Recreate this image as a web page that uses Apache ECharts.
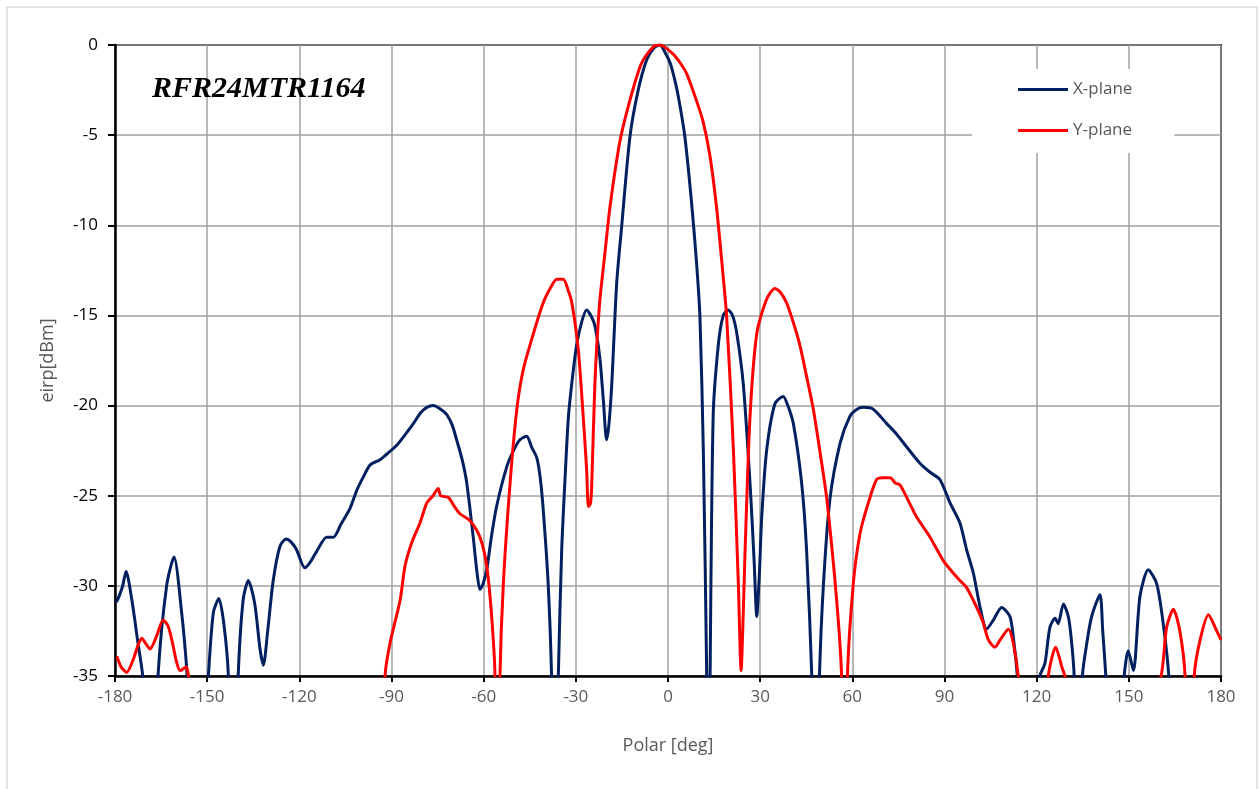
<!DOCTYPE html>
<html>
<head>
<meta charset="utf-8">
<script src="https://cdn.jsdelivr.net/npm/echarts@6/dist/echarts.min.js"></script>
<style>
  html, body { margin: 0; padding: 0; background: #fff; }
  #chart { width: 1260px; height: 789px; }
</style>
</head>
<body>
<div id="chart"></div>
<script>
// polar angle [deg], eirp [dBm]; -45 marks the nulls that run off the bottom
const xPlane = [
  [-179.5, -30.9], [-178.5, -30.5], [-177.5, -30.0], [-176.4, -29.2], [-174.5, -30.8],
  [-172.5, -33.2], [-171, -35], [-168.5, -45], [-166, -35], [-163.2, -30.0],
  [-160.8, -28.4], [-158.3, -31.5], [-156.5, -35], [-153, -45], [-149.6, -35],
  [-148, -31.5], [-146.2, -30.7], [-144.5, -32.2], [-143.1, -35], [-141.5, -45],
  [-139.9, -35], [-138.3, -30.8], [-136.6, -29.7], [-134.5, -31.0], [-132.8, -33.5],
  [-131.7, -34.4], [-130.3, -32.5], [-128.5, -29.7], [-126.3, -27.8], [-124.3, -27.4],
  [-122.5, -27.6], [-120.9, -28.0], [-118.2, -29.0], [-116.5, -28.7], [-114.4, -28.1],
  [-111.1, -27.3], [-108.9, -27.3], [-106.5, -26.6], [-103.5, -25.7], [-101.3, -24.7],
  [-99, -23.9], [-97, -23.3], [-93.7, -23.0], [-91.6, -22.7], [-88.3, -22.2],
  [-85.5, -21.6], [-82.9, -21.0], [-80.5, -20.4], [-78.5, -20.1], [-76.4, -20.0],
  [-74, -20.2], [-72, -20.5], [-70.2, -21.1], [-68.8, -21.9], [-67, -23.0],
  [-65.5, -24.3], [-63.4, -27.3], [-62.2, -29.2], [-61.2, -30.2], [-60.2, -29.9],
  [-59, -29.1], [-57.5, -27.3], [-55.8, -25.6], [-52.5, -23.4], [-50.3, -22.5],
  [-48.2, -21.9], [-46, -21.7], [-44.4, -22.3], [-42.7, -22.9], [-41.6, -24.0],
  [-40.6, -25.8], [-39, -29.9], [-37.9, -35], [-36.8, -45], [-35.7, -35],
  [-34.6, -28.0], [-33.5, -24.0], [-32.4, -20.6], [-31, -18.3], [-29.7, -16.6],
  [-28, -15.3], [-26.5, -14.7], [-24.3, -15.3], [-23.2, -16.1], [-22.1, -17.5],
  [-21, -19.8], [-20, -21.9], [-19.2, -21.0], [-18.3, -18.8], [-16.7, -13.2],
  [-15.1, -10.1], [-12.4, -5.1], [-9.7, -2.5], [-6.9, -0.8], [-4.5, -0.15],
  [-2.6, 0], [-1, -0.4], [0.7, -1.0], [2, -1.8], [3.4, -2.9],
  [5.5, -5.1], [7.7, -8.8], [9.3, -12.1], [10.4, -15.1], [11.5, -22.5],
  [12.6, -35], [13.2, -45], [13.7, -35], [14.7, -20.6], [16.4, -16.6],
  [18, -15.0], [19.6, -14.7], [21, -15.0], [22.4, -16.0], [24.5, -18.8],
  [26.7, -24.3], [28, -28.5], [28.9, -31.7], [29.7, -29.5], [30.5, -26.2],
  [32.1, -22.5], [34.8, -19.9], [37.5, -19.5], [39, -20.0], [40.8, -21.0],
  [43.5, -24.3], [45.1, -28.0], [46.8, -35], [48, -45], [49.3, -35],
  [50.6, -29.9], [52.7, -25.2], [56, -22.1], [59.2, -20.6], [61.5, -20.2],
  [63.6, -20.1], [66.8, -20.2], [71.2, -21.0], [74.5, -21.6], [77.7, -22.3],
  [82, -23.2], [85.3, -23.7], [88.5, -24.1], [91.8, -25.4], [95, -26.5],
  [97.2, -28.0], [99.4, -29.3], [101.6, -31.2], [103.7, -32.4], [105.9, -31.9],
  [108.6, -31.2], [111.3, -31.7], [112.5, -33.0], [113.7, -35], [117.5, -45],
  [121.1, -35], [122.7, -34.3], [124.3, -32.3], [126, -31.8], [127, -32.1],
  [128.7, -31.0], [130.3, -31.7], [131.3, -33.0], [132.2, -35], [133.5, -45],
  [134.9, -35], [136.3, -33.2], [137.9, -31.7], [140.6, -30.5], [141.5, -32.5],
  [142.5, -35], [145.5, -45], [148.5, -35], [149.8, -33.6], [151.5, -34.7],
  [153.6, -30.6], [156.3, -29.1], [159.1, -29.9], [161.2, -32.1], [163, -35],
  [166, -45]
];

const yPlane = [
  [-179.4, -33.9], [-178, -34.5], [-176.2, -34.8], [-174.1, -34.1], [-172.5, -33.3],
  [-171.3, -32.9], [-170, -33.2], [-168.6, -33.5], [-166.5, -32.8], [-164.3, -31.9],
  [-162.8, -32.2], [-161.5, -33.0], [-160, -34.2], [-158.8, -34.7], [-156.9, -34.5],
  [-156.1, -35], [-155, -45], [-93, -45], [-92.1, -35], [-90.5, -33.2],
  [-87.2, -30.8], [-85.6, -28.9], [-83.4, -27.6], [-80.7, -26.5], [-78.5, -25.4],
  [-76.5, -25.0], [-74.8, -24.6], [-74, -25.0], [-71.5, -25.1], [-69.5, -25.6],
  [-67.7, -26.0], [-64.4, -26.4], [-61.2, -27.3], [-59, -28.9], [-57.4, -31.7],
  [-56.3, -35], [-55.5, -45], [-54.7, -35], [-53.6, -29.9], [-51.4, -24.3],
  [-49.2, -20.2], [-47.1, -18.0], [-43.8, -16.0], [-40.6, -14.3], [-38, -13.4],
  [-36.2, -13.0], [-34.1, -13.0], [-32.5, -13.6], [-31.3, -14.3], [-29.2, -16.9],
  [-27.6, -20.6], [-26.5, -23.5], [-25.9, -25.6], [-25.2, -25.4], [-24.8, -24.3],
  [-23.8, -18.8], [-22.3, -14.4], [-20.5, -11.5], [-18.9, -9.0], [-15.6, -5.3],
  [-11.8, -2.7], [-8.6, -1.0], [-4.8, -0.1], [-2.6, 0], [1.7, -0.5],
  [4, -1.0], [6.1, -1.6], [9.3, -3.1], [11.5, -4.3], [13.7, -6.2],
  [15.8, -9.0], [17.5, -12.0], [19.1, -15.1], [21.3, -22.5], [22.9, -29.9],
  [23.8, -34.7], [24.5, -31.5], [25.1, -28.0], [26.7, -20.6], [28.9, -16.0],
  [32.1, -14.1], [34.8, -13.5], [36.5, -13.7], [38.6, -14.3], [41, -15.5],
  [43, -16.7], [45, -18.3], [47.3, -20.2], [49.5, -22.6], [51.7, -25.2],
  [54.9, -30.8], [56.5, -35], [57.5, -45], [58.4, -35], [60.3, -29.9],
  [62.5, -27.1], [65.2, -25.4], [67.9, -24.1], [70, -24.0], [72.3, -24.0],
  [74, -24.3], [75.5, -24.4], [78, -25.2], [81, -26.2], [85.3, -27.3],
  [89.6, -28.6], [92.9, -29.3], [95, -29.7], [97.2, -30.1], [100.5, -31.2],
  [102.5, -32.0], [104.3, -33.0], [106.4, -33.4], [108.1, -33.0], [110.8, -32.4],
  [112.4, -33.2], [114, -35], [119, -45], [123.8, -35], [126.2, -33.4],
  [128.2, -34.5], [129.2, -35], [145, -45], [160.5, -35], [162.3, -32.3],
  [164.5, -31.3], [166.6, -32.5], [168.3, -35], [169.8, -45], [171.3, -35],
  [173.2, -33.0], [175.9, -31.6], [178.6, -32.5], [180, -33.0]
];

const xTicks = { min: -180, max: 180, interval: 30 };
const yTicks = { min: -35, max: 0, interval: 5 };

const chart = echarts.init(document.getElementById('chart'), null, { renderer: 'canvas' });

const labelFont = "'Open Sans', 'Liberation Sans', sans-serif";

const option = {
  backgroundColor: '#fff',
  animation: false,
  graphic: [
    {
      type: 'rect',
      shape: { x: 7, y: 7, width: 1250, height: 800 },
      style: { fill: 'none', stroke: '#d9d9d9', lineWidth: 1.5 },
      silent: true
    },
    {
      type: 'text',
      left: 152,
      top: 74,
      style: {
        text: 'RFR24MTR1164',
        font: "italic bold 30px 'Liberation Serif', 'DejaVu Serif', serif",
        fill: '#000'
      },
      z: 10
    }
  ],
  grid: {
    left: 115,
    right: 39,
    top: 45,
    bottom: 113,
    show: true,
    borderColor: '#000',
    borderWidth: 2
  },
  legend: {
    orient: 'vertical',
    left: 972,
    top: 69,
    padding: [12, 42, 14, 46],
    itemGap: 24,
    itemWidth: 50,
    itemHeight: 3,
    icon: 'rect',
    backgroundColor: '#fff',
    textStyle: { fontFamily: labelFont, fontSize: 17, color: '#595959' },
    data: ['X-plane', 'Y-plane'],
    z: 5
  },
  xAxis: {
    type: 'value',
    min: xTicks.min,
    max: xTicks.max,
    interval: xTicks.interval,
    name: 'Polar [deg]',
    nameLocation: 'middle',
    nameGap: 61,
    nameTextStyle: { fontFamily: labelFont, fontSize: 18, color: '#595959' },
    axisLine: { onZero: false, lineStyle: { color: '#000', width: 2.5 } },
    axisTick: { show: true, inside: false, length: 6, lineStyle: { color: '#000', width: 2 } },
    axisLabel: { margin: 13, fontFamily: labelFont, fontSize: 17, color: '#595959' },
    splitLine: { show: true, lineStyle: { color: '#a0a0a0', width: 1.5 } }
  },
  yAxis: {
    type: 'value',
    min: yTicks.min,
    max: yTicks.max,
    interval: yTicks.interval,
    name: 'eirp[dBm]',
    nameLocation: 'middle',
    nameGap: 58,
    nameTextStyle: { fontFamily: labelFont, fontSize: 18, color: '#595959' },
    axisLine: { onZero: false, lineStyle: { color: '#000', width: 2.5 } },
    axisTick: { show: true, inside: false, length: 7, lineStyle: { color: '#000', width: 2 } },
    axisLabel: { margin: 17, fontFamily: labelFont, fontSize: 17, color: '#000' },
    splitLine: { show: true, lineStyle: { color: '#a0a0a0', width: 1.5 } }
  },
  series: [
    {
      name: 'X-plane',
      type: 'line',
      data: xPlane,
      symbol: 'none',
      smooth: 0.25,
      clip: true,
      lineStyle: { color: '#002060', width: 3 },
      itemStyle: { color: '#002060' }
    },
    {
      name: 'Y-plane',
      type: 'line',
      data: yPlane,
      symbol: 'none',
      smooth: 0.25,
      clip: true,
      lineStyle: { color: '#ff0000', width: 3 },
      itemStyle: { color: '#ff0000' }
    }
  ]
};

chart.setOption(option);
</script>
</body>
</html>
